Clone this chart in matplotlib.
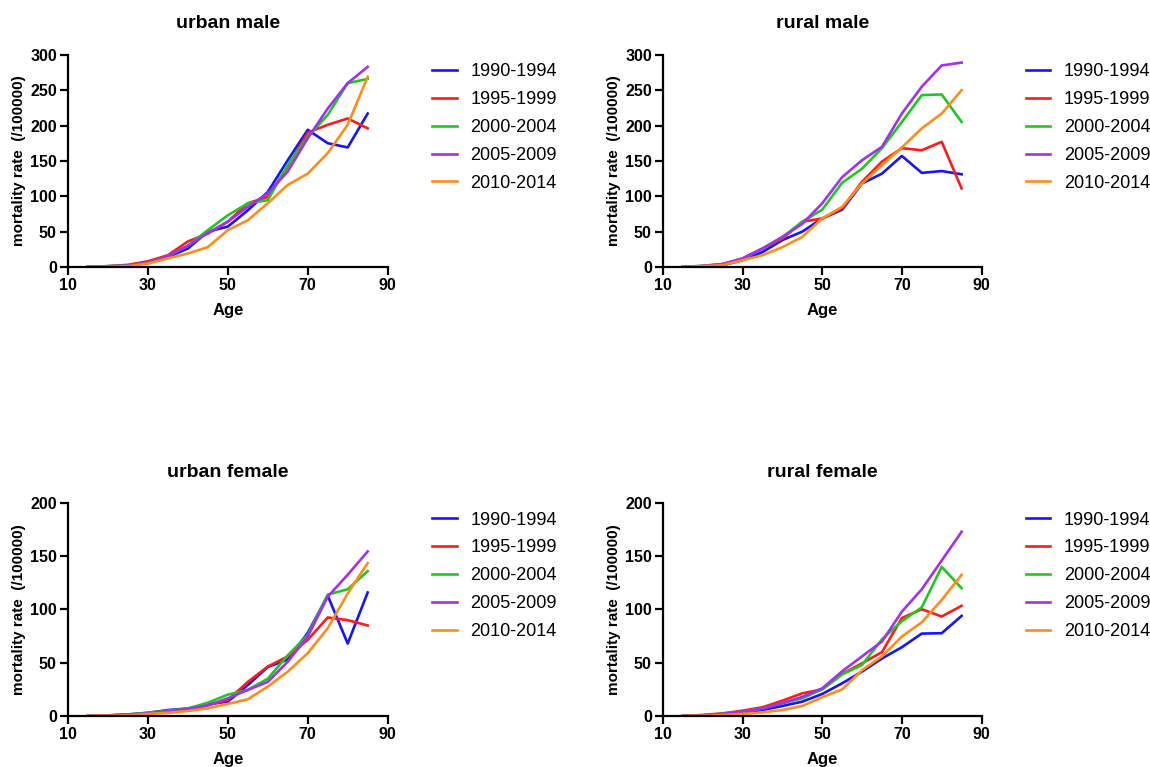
import matplotlib
matplotlib.use("Agg")
import matplotlib.pyplot as plt

plt.rcParams["font.family"] = ["Liberation Sans", "DejaVu Sans"]

# age groups (x axis)
ages = [15, 20, 25, 30, 35, 40, 45, 50, 55, 60, 65, 70, 75, 80, 85]
periods = ["1990-1994", "1995-1999", "2000-2004", "2005-2009", "2010-2014"]
colors = ["#1414ff", "#ff1a1a", "#1ec81e", "#a230f0", "#ff8c1a"]

# urban male
um_1990 = [0, 0.5, 2, 6, 14, 26, 50, 57, 80, 106, 151, 194, 175, 169, 217]
um_1995 = [0.5, 1, 3, 8, 16.5, 36, 47, 64, 90, 99, 142, 190, 201, 210, 196]
um_2000 = [0, 1, 2, 6, 15, 30, 52, 73, 90, 94.5, 144, 184, 215, 260, 266]
um_2005 = [0, 1, 2, 6, 15, 30, 48, 64, 85, 104, 135, 182, 224, 260, 283]
um_2010 = [0, 0, 1, 4.7, 12, 19, 28, 52, 66, 90, 116, 132, 161, 201, 269]

# rural male
rm_1990 = [0, 1, 2.4, 9.5, 21, 38, 50, 68.5, 81, 118, 132, 157, 133, 135.6, 131]
rm_1995 = [0, 1, 4, 12, 26, 40, 64, 68.5, 83, 120.5, 149, 168, 165, 177, 111]
rm_2000 = [0, 1.5, 4, 11, 26, 42, 64, 81, 119, 139, 168, 205, 243, 244, 205]
rm_2005 = [0, 1.5, 4, 12, 26, 42.5, 61, 90, 127, 151, 170, 217, 255, 285, 289]
rm_2010 = [0, 1, 2.4, 9.5, 16.5, 28, 42.5, 68.5, 85, 118, 144, 169, 196, 217, 250]

# urban female
uf_1990 = [0, 0.6, 1.5, 3, 5.6, 7, 11, 13.5, 29, 46, 53, 78, 113, 68, 116]
uf_1995 = [0, 0.5, 1.2, 2.5, 4, 5.6, 10, 15, 32, 46.4, 56, 71.5, 92.5, 90, 85]
uf_2000 = [0, 0.5, 1.2, 3, 5, 7, 12.5, 20, 24.5, 35, 57, 76, 114, 119, 136]
uf_2005 = [0, 0.5, 1.2, 2.5, 4.4, 6.6, 10, 16.6, 24.5, 32, 51, 74.6, 112, 132.6, 154.5]
uf_2010 = [0, 0.3, 0.6, 1.9, 3, 4.7, 7.2, 11.3, 15.7, 27.6, 41.7, 59, 82.4, 115, 143.6]

# rural female
rf_1990 = [0, 0.6, 1.6, 3, 5.6, 9.4, 13.5, 20.7, 30.7, 41.7, 54, 64.6, 77.4, 77.7, 94]
rf_1995 = [0, 1, 2.5, 5, 8.2, 14.4, 21.3, 25, 39.5, 49.5, 60, 92, 100.3, 93.4, 103.5]
rf_2000 = [0, 0.6, 2, 4, 7, 12, 16.6, 25, 39, 48, 72, 89, 102, 140, 120]
rf_2005 = [0, 0.6, 2, 4, 7, 12, 18, 26, 42, 56, 70, 98, 119, 146, 173]
rf_2010 = [0, 0.3, 0.9, 1.9, 3.4, 5.6, 9.4, 17.6, 25, 43, 56, 74.6, 88, 109, 132.6]

panels = [
    ("urban male", [um_1990, um_1995, um_2000, um_2005, um_2010], 300, [0.0591, 0.652, 0.278, 0.2765]),
    ("rural male", [rm_1990, rm_1995, rm_2000, rm_2005, rm_2010], 300, [0.5765, 0.652, 0.277, 0.2765]),
    ("urban female", [uf_1990, uf_1995, uf_2000, uf_2005, uf_2010], 200, [0.0591, 0.0665, 0.278, 0.2777]),
    ("rural female", [rf_1990, rf_1995, rf_2000, rf_2005, rf_2010], 200, [0.5765, 0.0665, 0.277, 0.2777]),
]

fig = plt.figure(figsize=(11.5, 7.67), dpi=100)

for title, series, ymax, rect in panels:
    ax = fig.add_axes(rect)
    for vals, lab, col in zip(series, periods, colors):
        ax.plot(ages, vals, color=col, lw=1.9, label=lab)
    ax.set_xlim(10, 90)
    ax.set_ylim(0, ymax)
    ax.set_xticks([10, 30, 50, 70, 90])
    ax.set_yticks(range(0, ymax + 1, 50))
    for s in ["top", "right"]:
        ax.spines[s].set_visible(False)
    for s in ["left", "bottom"]:
        ax.spines[s].set_linewidth(1.6)
    ax.tick_params(direction="out", length=5.5, width=1.6, pad=2.5, labelsize=11.5)
    for t in ax.get_xticklabels() + ax.get_yticklabels():
        t.set_fontweight("bold")
    ax.set_title(title, fontsize=14, fontweight="bold", pad=19)
    ax.set_xlabel("Age", fontsize=12, fontweight="bold", labelpad=7)
    ax.set_ylabel("mortality rate  (/100000)", fontsize=11, fontweight="bold", labelpad=3)
    ax.legend(loc="upper left", bbox_to_anchor=(1.14, 0.96), frameon=False,
              fontsize=13, handlelength=1.35, handletextpad=0.75,
              labelspacing=0.6, borderpad=0, borderaxespad=0)

fig.savefig("out.png", dpi=100)
